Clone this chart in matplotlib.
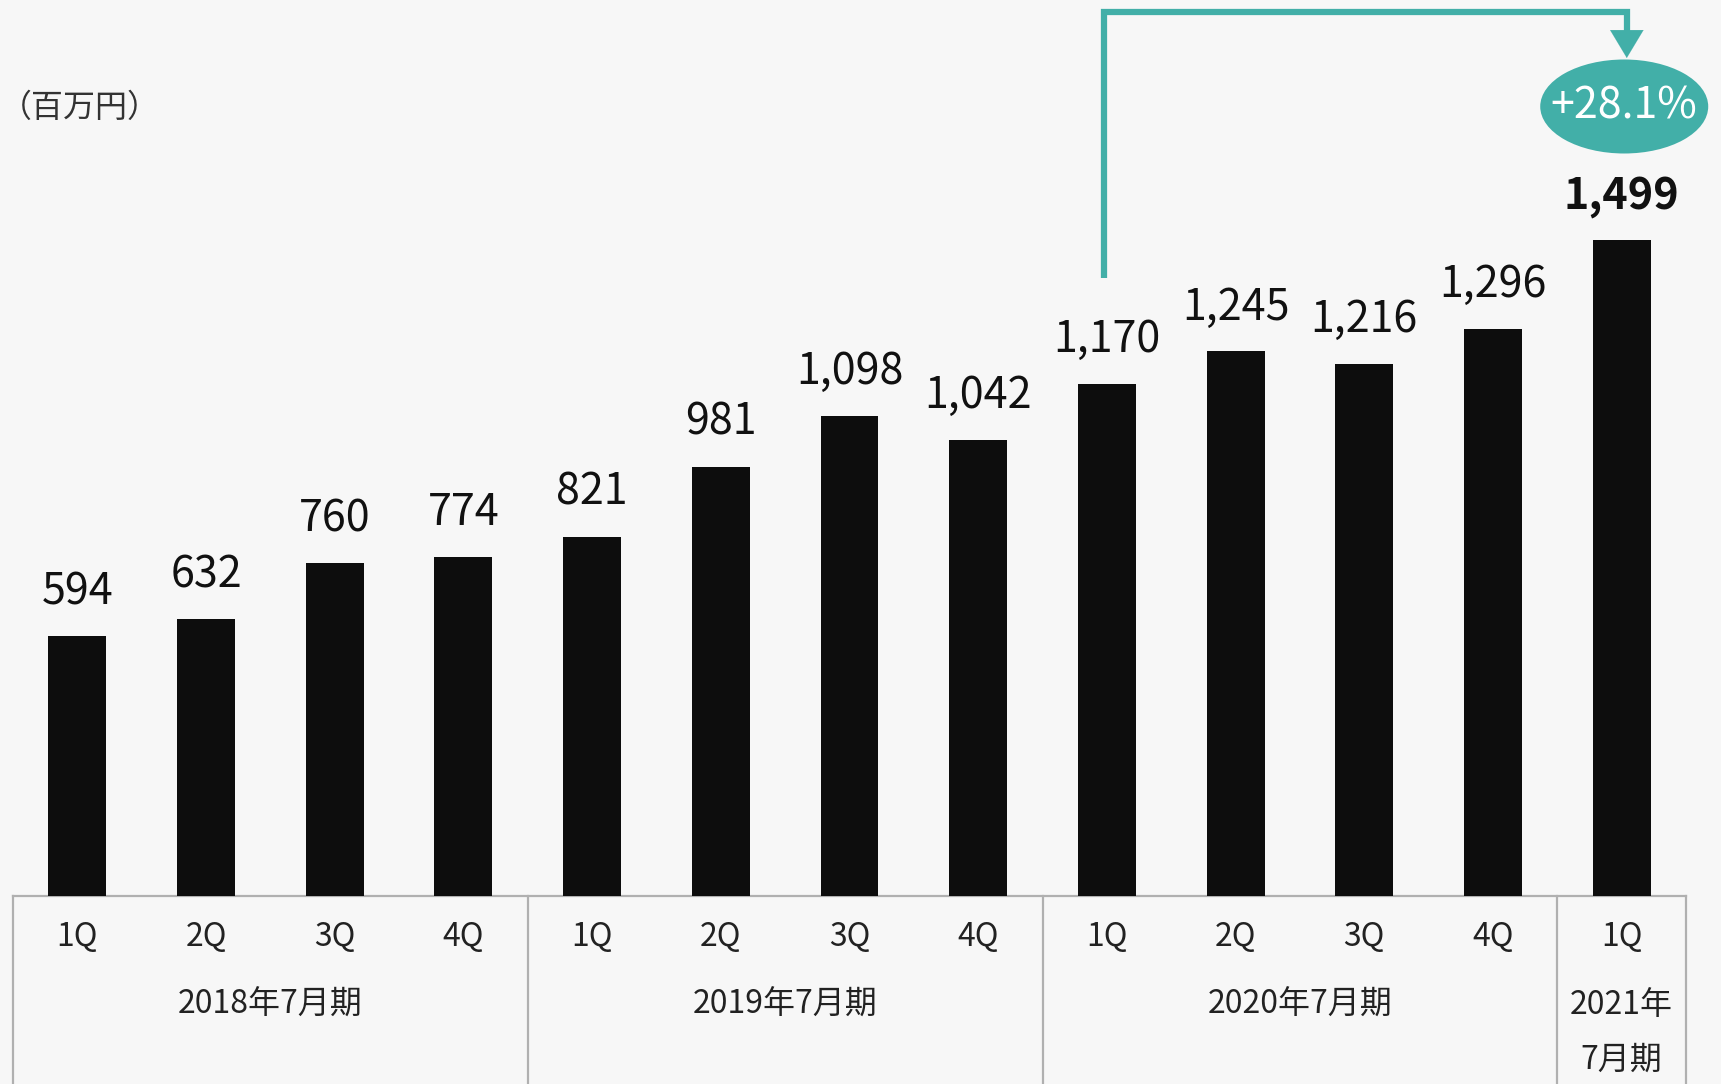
import matplotlib.pyplot as plt
from matplotlib.patches import Ellipse

plt.rcParams['font.family'] = ['Noto Sans CJK JP', 'DejaVu Sans']

quarters = ["1Q", "2Q", "3Q", "4Q", "1Q", "2Q", "3Q", "4Q", "1Q", "2Q", "3Q", "4Q", "1Q"]
sales = [594, 632, 760, 774, 821, 981, 1098, 1042, 1170, 1245, 1216, 1296, 1499]
periods = ["2018年7月期", "2019年7月期", "2020年7月期", "2021年\n7月期"]
period_spans = [(0, 3), (4, 7), (8, 11), (12, 12)]
growth = "+28.1%"

bg = "#f7f7f7"
teal = "#42afa8"
grid = "#b0b0b0"

W, H = 1721, 1084
fig = plt.figure(figsize=(W / 100, H / 100), dpi=100, facecolor=bg)
ax = fig.add_axes([0, 0, 1, 1])
ax.set_facecolor(bg)

# pixel-to-data helpers (baseline at y=895.7px, 0.437 px per unit)
base_px = 895.7
ppu = 655.3 / 1499
xpx = 1673 / 13.0
def py(p):
    return (base_px - p) / ppu

ax.set_xlim(-0.5 - 13 / xpx, 12.5 + (W - 1686) / xpx)
ax.set_ylim(py(H), py(0))
ax.axis('off')

x = list(range(len(sales)))
ax.bar(x, sales, width=0.45, color="#0d0d0d", zorder=3)

for i, v in enumerate(sales):
    last = i == len(sales) - 1
    ax.annotate(f"{v:,}", (i, v), xytext=(0, 23), textcoords='offset points',
                ha='center', va='baseline', fontsize=31,
                fontweight='bold' if last else 'normal', color="#111111")

# table under the bars
ax.plot([-0.5, 12.5], [0, 0], color=grid, lw=1.6, zorder=2)
for xe in [-0.5, 3.5, 7.5, 11.5, 12.5]:
    ax.plot([xe, xe], [0, py(H)], color=grid, lw=1.6, zorder=2)
for i, q in enumerate(quarters):
    ax.text(i, py(937), q, ha='center', va='center', fontsize=23, color="#222222")
for (a, b), p in zip(period_spans, periods):
    lines = p.split("\n")
    for k, line in enumerate(lines):
        ax.text((a + b) / 2, py(1005 + 55 * k), line, ha='center', va='center',
                fontsize=23, color="#222222")

# growth arrow from 2020 1Q to 2021 1Q
x0, x1 = 8 - 0.025, 12 + 0.04
y_start = sales[8] + 106 / ppu
y_top = py(12)
ax.plot([x0, x0, x1, x1], [y_start, y_top, y_top, py(40)], color=teal, lw=4.5,
        solid_joinstyle='miter', solid_capstyle='butt', zorder=4)
ax.annotate('', xy=(x1, py(58)), xytext=(x1, py(36)),
            arrowprops=dict(arrowstyle='-|>,head_length=1.0,head_width=0.6',
                            color=teal, lw=0.1, shrinkA=0, shrinkB=0,
                            mutation_scale=20), zorder=4)
ax.add_patch(Ellipse((12 + 0.02, py(106.5)), 168 / xpx, 94 / ppu,
                     facecolor=teal, edgecolor='none', zorder=4))
ax.text(12 + 0.02, py(106.5), growth, ha='center', va='center', fontsize=31,
        color='white', zorder=5)

fig.text(0.0, 1 - 108 / H, "（百万円）", ha='left', va='center', fontsize=23, color="#333333")

fig.savefig("out.png", dpi=100, facecolor=bg)
